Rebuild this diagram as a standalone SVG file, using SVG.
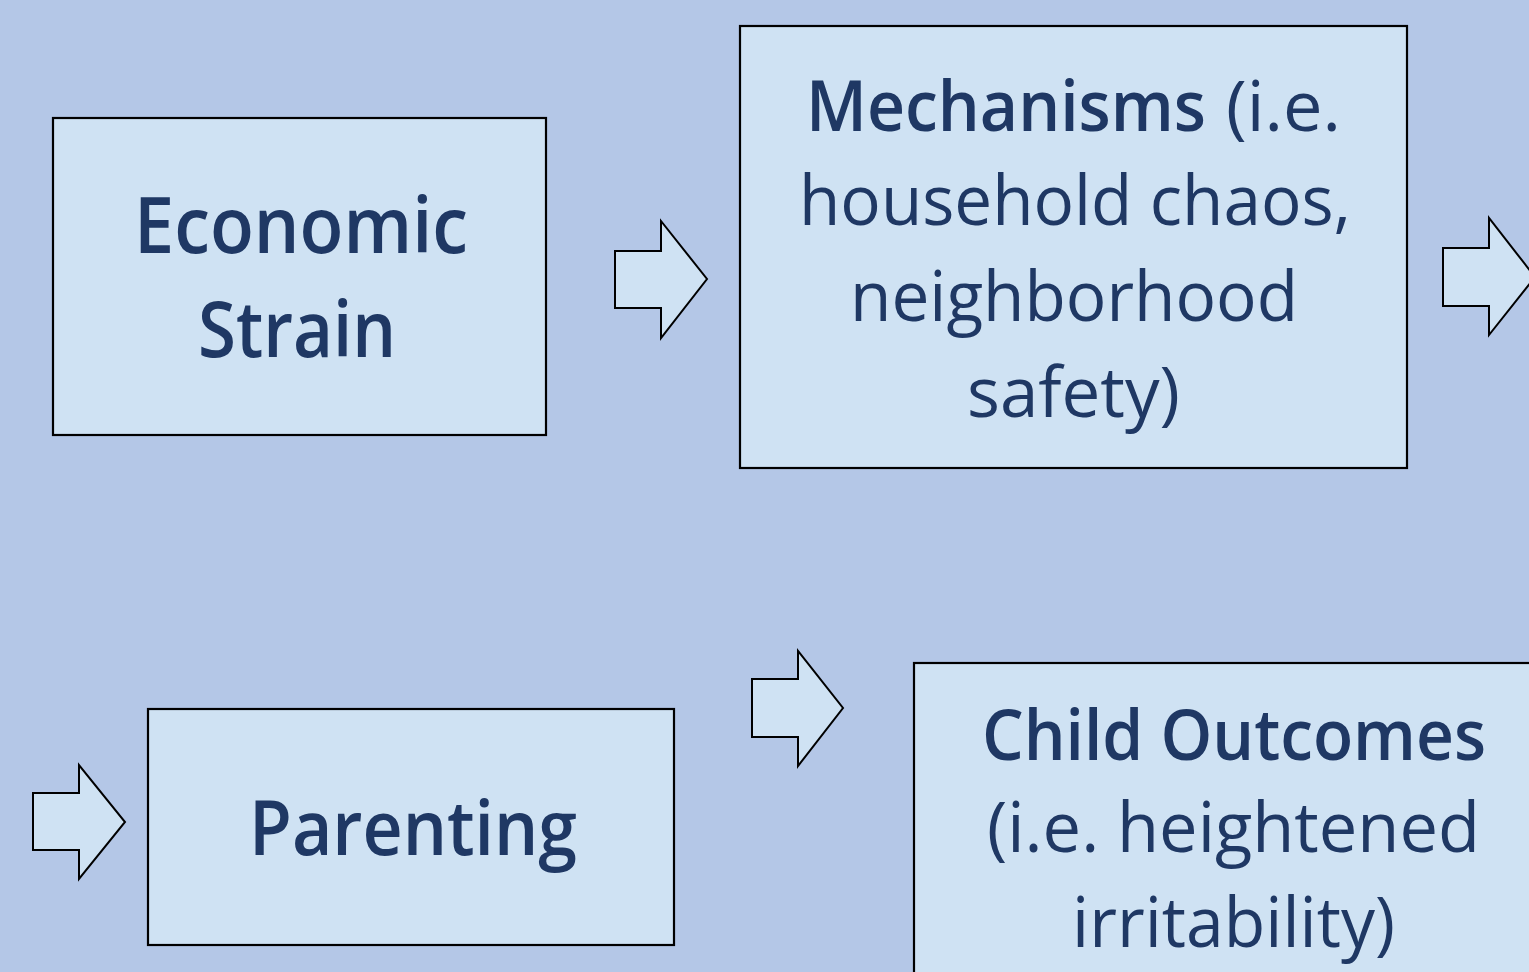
<svg xmlns="http://www.w3.org/2000/svg" width="1529" height="972" viewBox="0 0 1529 972">
<style>
.box{fill:#CFE2F3;stroke:#000;stroke-width:2.2}
.arr{fill:#CFE2F3;stroke:#000;stroke-width:2}
.t{font-family:"Open Sans","Noto Sans","Liberation Sans",sans-serif;fill:#1F3864}
.b{font-weight:600}
.r{font-weight:400}
</style>
<rect width="1529" height="972" fill="#B4C7E7"/>
<g id="connectors">
<polygon class="arr" points="615,251 661,251 661,221 707,279 661,338 661,308 615,308"/>
<polygon class="arr" points="1443,248 1489,248 1489,218 1535,277 1489,335 1489,306 1443,306"/>
<polygon class="arr" points="33,793 79,793 79,765 125,822 79,879 79,850 33,850"/>
<polygon class="arr" points="752,679 798,679 798,651 843,708 798,766 798,737 752,737"/>
</g>
<g id="economic-strain">
<rect class="box" x="53" y="118" width="493" height="317"/>
<text class="t b" x="134" y="253" font-size="77" textLength="334" lengthAdjust="spacingAndGlyphs">Economic</text>
<text class="t b" x="198" y="357" font-size="77" textLength="198" lengthAdjust="spacingAndGlyphs">Strain</text>
</g>
<g id="mechanisms">
<rect class="box" x="740" y="26" width="667" height="442"/>
<text class="t b" x="806" y="131" font-size="70" textLength="400" lengthAdjust="spacingAndGlyphs">Mechanisms</text>
<text class="t r" x="1226" y="131" font-size="70" textLength="115" lengthAdjust="spacingAndGlyphs">(i.e.</text>
<text class="t r" x="799" y="225" font-size="70" textLength="552" lengthAdjust="spacingAndGlyphs">household chaos,</text>
<text class="t r" x="850" y="321" font-size="70" textLength="448" lengthAdjust="spacingAndGlyphs">neighborhood</text>
<text class="t r" x="967" y="417" font-size="70" textLength="213" lengthAdjust="spacingAndGlyphs">safety)</text>
</g>
<g id="parenting">
<rect class="box" x="148" y="709" width="526" height="236"/>
<text class="t b" x="249" y="855" font-size="76" textLength="328" lengthAdjust="spacingAndGlyphs">Parenting</text>
</g>
<g id="child-outcomes">
<rect class="box" x="914" y="663" width="640" height="330"/>
<text class="t b" x="982" y="760" font-size="70" textLength="504" lengthAdjust="spacingAndGlyphs">Child Outcomes</text>
<text class="t r" x="987" y="852" font-size="70" textLength="493" lengthAdjust="spacingAndGlyphs">(i.e. heightened</text>
<text class="t r" x="1072" y="947" font-size="70" textLength="323" lengthAdjust="spacingAndGlyphs">irritability)</text>
</g>
</svg>
